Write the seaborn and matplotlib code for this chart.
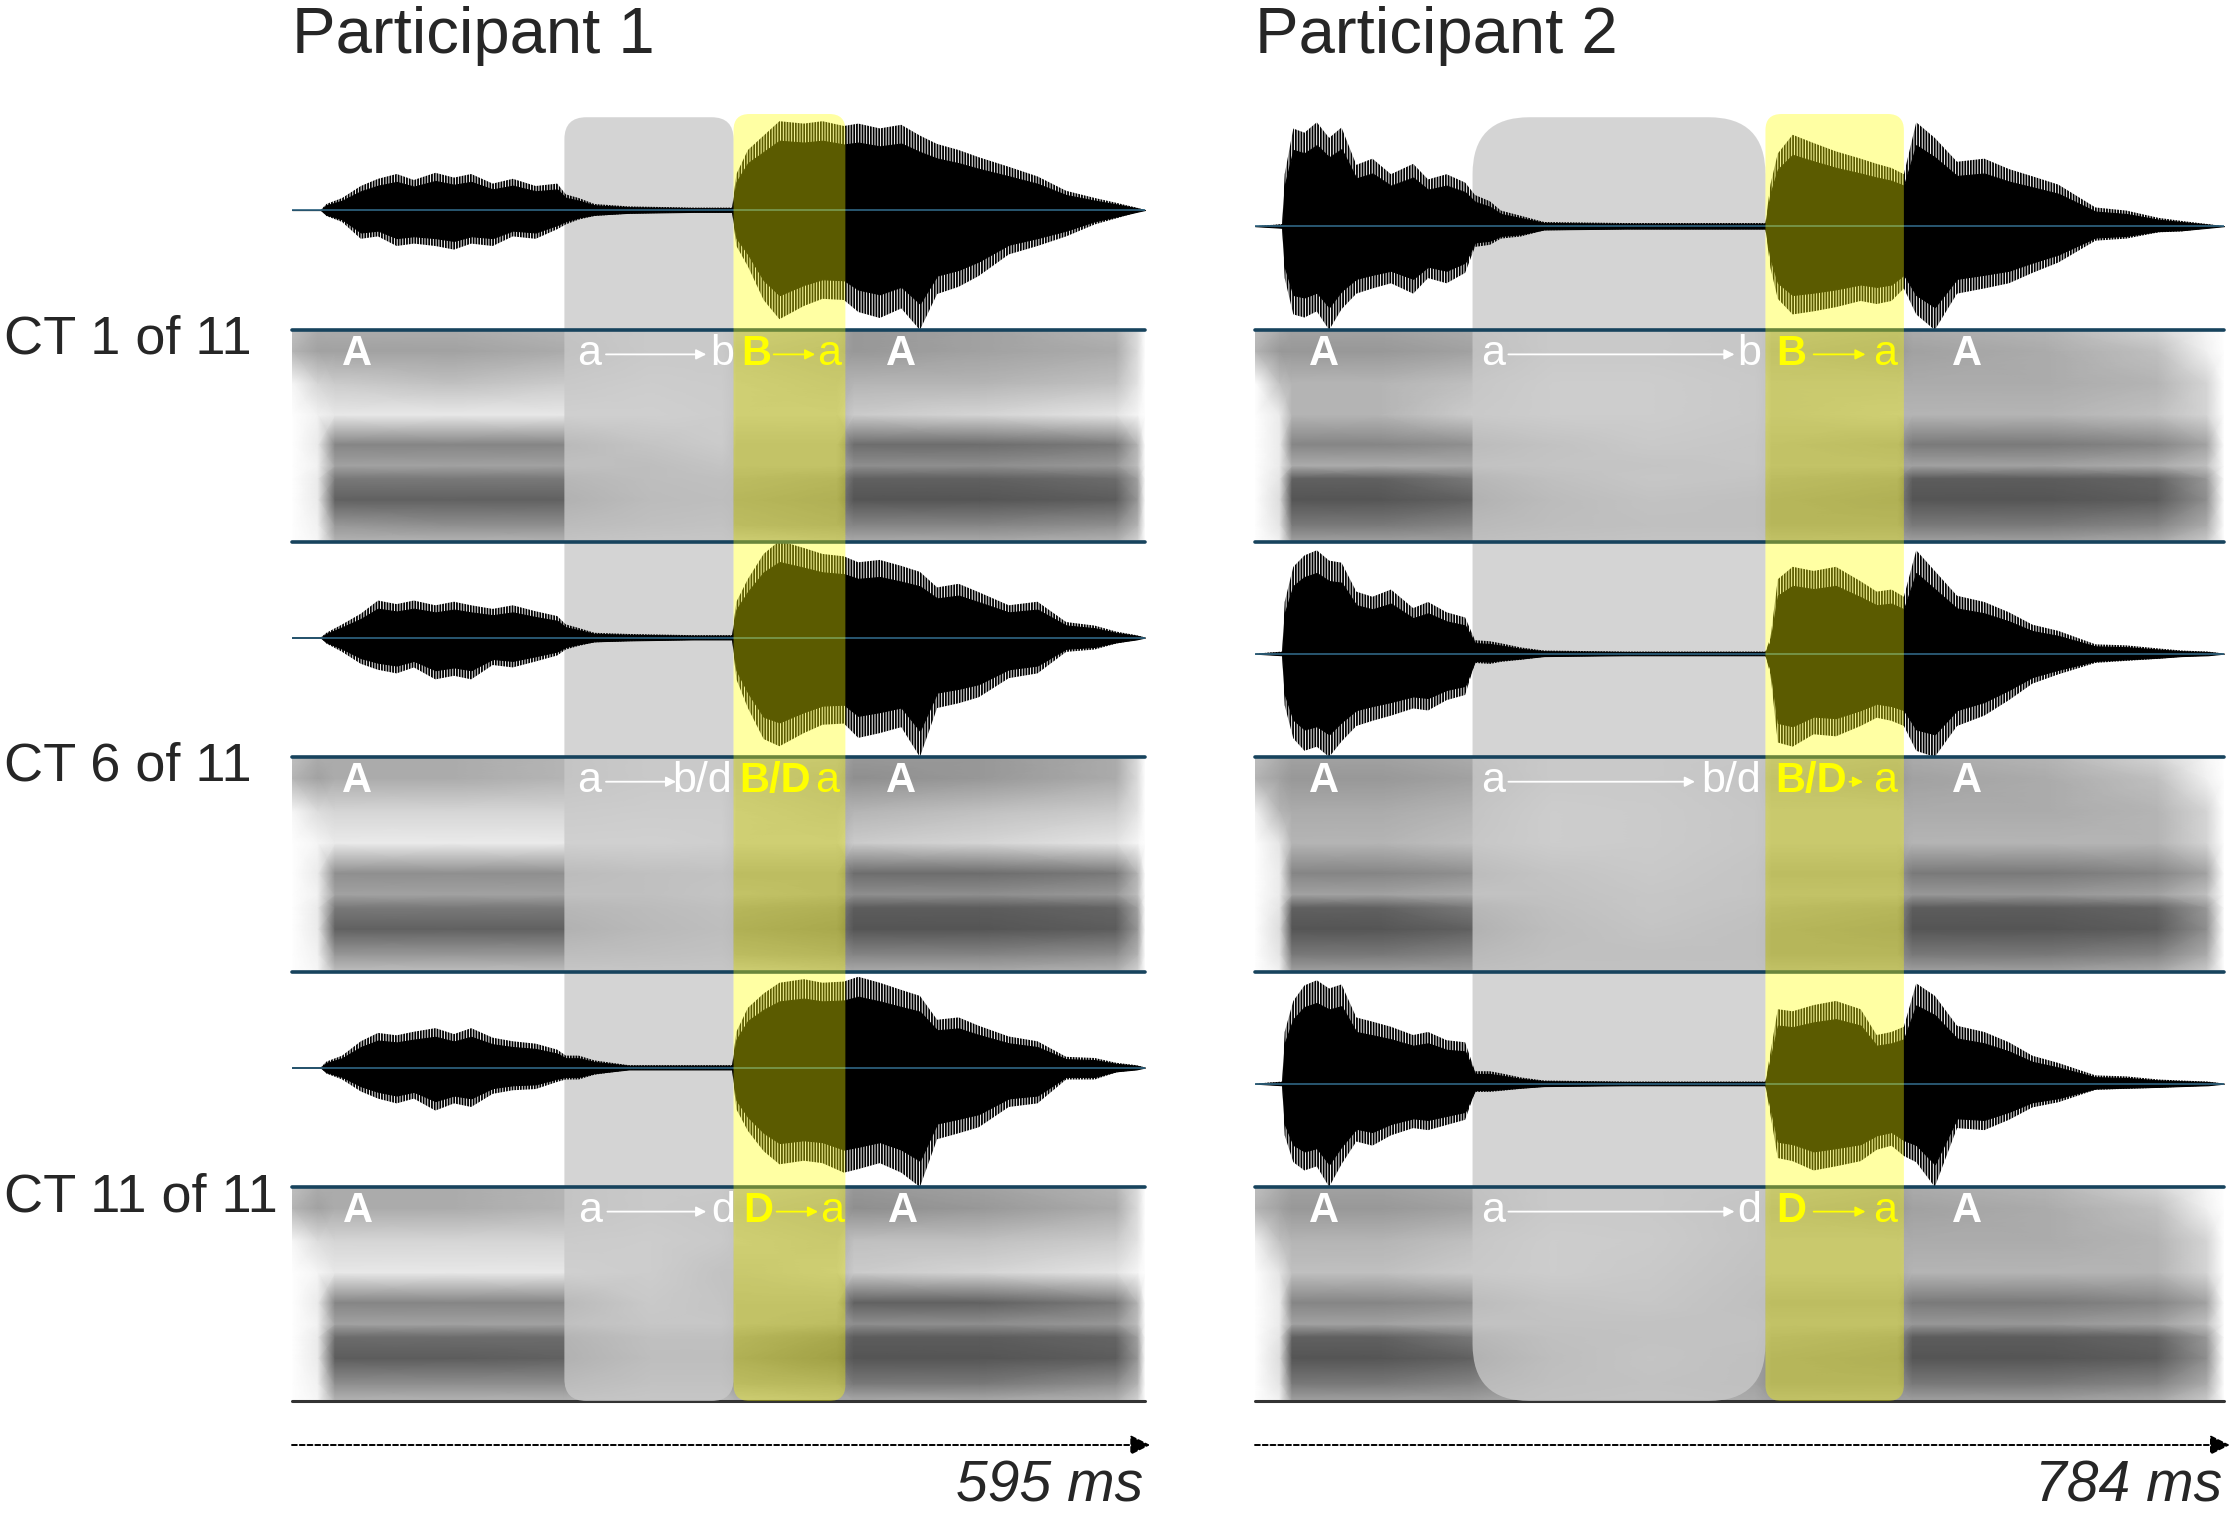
import numpy as np
import matplotlib
matplotlib.use("Agg")
import matplotlib.pyplot as plt
import matplotlib.transforms as mtransforms
from matplotlib.patches import FancyBboxPatch, Rectangle
import seaborn as sns

# ---------------- data ----------------
PARTICIPANTS = ["Participant 1", "Participant 2"]
ROW_LABELS = ["CT 1 of 11", "CT 6 of 11", "CT 11 of 11"]
DURATION_MS = [595, 784]

# highlighted segments (ms): grey = transition, yellow = burst/vowel onset
GREY_SEG = [(190, 308), (176, 413)]
YELLOW_SEG = [(308, 386), (413, 525)]

# waveform envelopes (fraction of baseline-to-separator distance)
WAVE_T_P1 = [0, 20, 24, 35, 48, 60, 73, 85, 100, 113, 125, 140, 154, 170, 185, 191, 200, 211, 235, 280,
             307, 310, 318, 329, 340, 357, 370, 385, 395, 410, 425, 438, 450, 465, 479, 500, 520, 540, 560, 575,
             589, 595]
WAVE_P1_CT1_UP = [0, 0, 0.05, 0.1, 0.2, 0.26, 0.3, 0.25, 0.31, 0.27, 0.3, 0.22, 0.26, 0.2, 0.22, 0.13, 0.1, 0.05,
                  0.03, 0.02, 0.02, 0.3, 0.5, 0.62, 0.74, 0.72, 0.74, 0.7, 0.72, 0.68, 0.71, 0.62, 0.55, 0.5, 0.44,
                  0.36, 0.28, 0.16, 0.1, 0.06, 0.02, 0]
WAVE_P1_CT1_DN = [0, 0, 0.05, 0.1, 0.24, 0.22, 0.3, 0.28, 0.3, 0.33, 0.28, 0.3, 0.22, 0.24, 0.16, 0.12, 0.08, 0.05,
                  0.03, 0.02, 0.02, 0.3, 0.47, 0.75, 0.91, 0.8, 0.74, 0.75, 0.85, 0.9, 0.82, 1.0, 0.7, 0.64, 0.55,
                  0.37, 0.3, 0.22, 0.12, 0.07, 0.02, 0]
WAVE_P1_CT6_UP = [0, 0, 0.04, 0.11, 0.2, 0.31, 0.28, 0.31, 0.27, 0.3, 0.27, 0.24, 0.27, 0.22, 0.18, 0.11, 0.08, 0.04,
                  0.03, 0.02, 0.02, 0.3, 0.49, 0.7, 0.81, 0.75, 0.7, 0.68, 0.63, 0.65, 0.6, 0.55, 0.42, 0.45, 0.38,
                  0.27, 0.3, 0.13, 0.1, 0.05, 0.02, 0]
WAVE_P1_CT6_DN = [0, 0, 0.05, 0.12, 0.22, 0.27, 0.3, 0.25, 0.35, 0.32, 0.35, 0.23, 0.25, 0.2, 0.15, 0.1, 0.07, 0.04,
                  0.03, 0.02, 0.02, 0.35, 0.59, 0.85, 0.91, 0.8, 0.73, 0.72, 0.84, 0.8, 0.75, 1.0, 0.59, 0.55, 0.5,
                  0.34, 0.3, 0.12, 0.1, 0.05, 0.02, 0]
WAVE_P1_CT11_UP = [0, 0, 0.05, 0.1, 0.22, 0.29, 0.27, 0.3, 0.33, 0.28, 0.33, 0.25, 0.22, 0.2, 0.15, 0.1, 0.1, 0.06,
                   0.02, 0.02, 0.02, 0.3, 0.5, 0.62, 0.71, 0.74, 0.71, 0.72, 0.76, 0.71, 0.65, 0.6, 0.4, 0.42, 0.35,
                   0.26, 0.22, 0.09, 0.08, 0.04, 0.02, 0]
WAVE_P1_CT11_DN = [0, 0, 0.05, 0.1, 0.2, 0.26, 0.3, 0.26, 0.36, 0.3, 0.33, 0.22, 0.19, 0.18, 0.12, 0.1, 0.1, 0.06,
                   0.02, 0.02, 0.02, 0.35, 0.53, 0.7, 0.81, 0.78, 0.8, 0.88, 0.85, 0.8, 0.88, 1.0, 0.6, 0.55, 0.5,
                   0.33, 0.3, 0.1, 0.1, 0.04, 0.02, 0]

WAVE_T_P2 = [0, 22, 24, 31, 40, 50, 60, 70, 82, 95, 110, 128, 140, 155, 170, 178, 190, 199, 215, 234,
             300, 380, 413, 417, 423, 435, 452, 470, 490, 503, 515, 525, 535, 550, 568, 590, 610, 629, 650, 680,
             705, 731, 750, 771, 784]
WAVE_P2_CT1_UP = [0, 0.02, 0.5, 0.94, 0.9, 1.0, 0.85, 0.95, 0.59, 0.65, 0.5, 0.6, 0.45, 0.5, 0.42, 0.3, 0.24, 0.15,
                  0.1, 0.04, 0.03, 0.03, 0.03, 0.4, 0.7, 0.88, 0.8, 0.72, 0.65, 0.6, 0.56, 0.5, 1.0, 0.85, 0.62, 0.65,
                  0.55, 0.48, 0.4, 0.18, 0.15, 0.08, 0.05, 0.02, 0]
WAVE_P2_CT1_DN = [0, 0.02, 0.5, 0.85, 0.88, 0.82, 1.0, 0.8, 0.65, 0.6, 0.55, 0.65, 0.5, 0.55, 0.45, 0.2, 0.18, 0.12,
                  0.1, 0.04, 0.03, 0.03, 0.03, 0.4, 0.7, 0.85, 0.82, 0.78, 0.72, 0.75, 0.72, 0.6, 0.85, 1.0, 0.65, 0.6,
                  0.55, 0.45, 0.35, 0.14, 0.12, 0.06, 0.05, 0.02, 0]
WAVE_P2_CT6_UP = [0, 0.02, 0.5, 0.84, 0.95, 1.0, 0.9, 0.88, 0.6, 0.55, 0.62, 0.44, 0.5, 0.4, 0.35, 0.13, 0.12, 0.1,
                  0.06, 0.03, 0.02, 0.02, 0.02, 0.15, 0.72, 0.84, 0.8, 0.84, 0.7, 0.6, 0.62, 0.55, 1.0, 0.8, 0.56, 0.5,
                  0.4, 0.28, 0.22, 0.09, 0.08, 0.05, 0.03, 0.02, 0]
WAVE_P2_CT6_DN = [0, 0.02, 0.5, 0.82, 0.94, 0.9, 1.0, 0.85, 0.7, 0.65, 0.6, 0.53, 0.55, 0.45, 0.4, 0.09, 0.1, 0.08,
                  0.06, 0.03, 0.02, 0.02, 0.02, 0.2, 0.86, 0.9, 0.78, 0.8, 0.7, 0.62, 0.65, 0.7, 0.94, 1.0, 0.7, 0.6,
                  0.45, 0.29, 0.2, 0.09, 0.07, 0.05, 0.03, 0.02, 0]
WAVE_P2_CT11_UP = [0, 0.02, 0.5, 0.8, 0.95, 1.0, 0.92, 0.96, 0.64, 0.6, 0.55, 0.47, 0.5, 0.42, 0.4, 0.12, 0.12, 0.1,
                   0.06, 0.03, 0.02, 0.02, 0.02, 0.3, 0.72, 0.7, 0.76, 0.8, 0.72, 0.47, 0.5, 0.55, 0.97, 0.85, 0.56,
                   0.5, 0.4, 0.27, 0.2, 0.08, 0.07, 0.04, 0.03, 0.02, 0]
WAVE_P2_CT11_DN = [0, 0.02, 0.5, 0.76, 0.84, 0.8, 1.0, 0.78, 0.56, 0.6, 0.5, 0.43, 0.45, 0.4, 0.35, 0.08, 0.08, 0.07,
                   0.05, 0.03, 0.02, 0.02, 0.02, 0.3, 0.72, 0.75, 0.84, 0.8, 0.75, 0.64, 0.6, 0.7, 0.76, 1.0, 0.43,
                   0.45, 0.35, 0.23, 0.18, 0.06, 0.05, 0.04, 0.03, 0.02, 0]

# spectrogram darkness (0 white .. 1 black); rows listed from top frequency to bottom
SPEC_F_TOP = [1.0, 0.9, 0.75, 0.6, 0.46, 0.36, 0.3, 0.2, 0.08, 0.0]
SPEC_T_P1 = [0, 18, 30, 110, 190, 250, 300, 310, 380, 392, 480, 575, 590, 595]
SPEC_T_P2 = [0, 20, 30, 100, 175, 240, 320, 405, 418, 520, 532, 640, 730, 770, 784]

SPEC_P1_CT1 = [
    [0.45, 0.55, 0.55, 0.55, 0.5, 0.4, 0.4, 0.5, 0.55, 0.65, 0.6, 0.5, 0.3, 0.0],
    [0.5, 0.6, 0.6, 0.6, 0.55, 0.4, 0.4, 0.55, 0.6, 0.65, 0.6, 0.55, 0.3, 0.0],
    [0.1, 0.35, 0.4, 0.45, 0.4, 0.3, 0.35, 0.5, 0.55, 0.5, 0.5, 0.45, 0.25, 0.0],
    [0.0, 0.15, 0.22, 0.22, 0.22, 0.22, 0.3, 0.5, 0.5, 0.4, 0.35, 0.25, 0.1, 0.0],
    [0.0, 0.2, 0.75, 0.75, 0.75, 0.5, 0.35, 0.6, 0.6, 0.85, 0.85, 0.8, 0.5, 0.0],
    [0.0, 0.15, 0.6, 0.6, 0.6, 0.65, 0.5, 0.6, 0.6, 0.7, 0.7, 0.65, 0.45, 0.0],
    [0.0, 0.2, 0.8, 0.8, 0.8, 0.65, 0.6, 0.65, 0.7, 0.9, 0.9, 0.85, 0.6, 0.0],
    [0.0, 0.2, 0.9, 0.9, 0.9, 0.7, 0.65, 0.7, 0.75, 0.96, 0.96, 0.92, 0.65, 0.0],
    [0.0, 0.15, 0.65, 0.7, 0.7, 0.6, 0.55, 0.65, 0.7, 0.75, 0.75, 0.7, 0.5, 0.0],
    [0.0, 0.1, 0.5, 0.5, 0.5, 0.45, 0.45, 0.5, 0.55, 0.55, 0.55, 0.5, 0.35, 0.0],
]
SPEC_P1_CT6 = [
    [0.45, 0.55, 0.55, 0.55, 0.5, 0.4, 0.4, 0.55, 0.55, 0.65, 0.65, 0.55, 0.3, 0.0],
    [0.5, 0.6, 0.55, 0.55, 0.5, 0.4, 0.4, 0.55, 0.6, 0.7, 0.65, 0.55, 0.3, 0.0],
    [0.1, 0.3, 0.35, 0.35, 0.35, 0.3, 0.3, 0.5, 0.55, 0.5, 0.45, 0.4, 0.25, 0.0],
    [0.0, 0.12, 0.2, 0.2, 0.2, 0.18, 0.25, 0.5, 0.5, 0.4, 0.35, 0.25, 0.1, 0.0],
    [0.0, 0.2, 0.7, 0.7, 0.7, 0.6, 0.55, 0.65, 0.65, 0.85, 0.85, 0.8, 0.5, 0.0],
    [0.0, 0.15, 0.6, 0.6, 0.6, 0.6, 0.5, 0.6, 0.65, 0.7, 0.7, 0.65, 0.45, 0.0],
    [0.0, 0.2, 0.8, 0.8, 0.8, 0.7, 0.6, 0.7, 0.75, 0.92, 0.92, 0.88, 0.6, 0.0],
    [0.0, 0.2, 0.9, 0.9, 0.9, 0.75, 0.65, 0.75, 0.8, 0.96, 0.96, 0.92, 0.65, 0.0],
    [0.0, 0.15, 0.65, 0.65, 0.65, 0.6, 0.55, 0.65, 0.7, 0.75, 0.75, 0.7, 0.5, 0.0],
    [0.0, 0.1, 0.45, 0.45, 0.45, 0.45, 0.45, 0.5, 0.55, 0.55, 0.55, 0.5, 0.35, 0.0],
]
SPEC_P1_CT11 = [
    [0.45, 0.55, 0.55, 0.55, 0.5, 0.4, 0.4, 0.5, 0.55, 0.65, 0.6, 0.5, 0.3, 0.0],
    [0.5, 0.6, 0.55, 0.55, 0.5, 0.4, 0.45, 0.55, 0.6, 0.7, 0.65, 0.55, 0.3, 0.0],
    [0.1, 0.3, 0.35, 0.35, 0.35, 0.3, 0.4, 0.5, 0.55, 0.45, 0.45, 0.4, 0.25, 0.0],
    [0.0, 0.12, 0.22, 0.22, 0.22, 0.3, 0.55, 0.55, 0.5, 0.4, 0.35, 0.25, 0.1, 0.0],
    [0.0, 0.2, 0.75, 0.75, 0.75, 0.4, 0.5, 0.6, 0.6, 0.9, 0.9, 0.8, 0.5, 0.0],
    [0.0, 0.15, 0.6, 0.6, 0.6, 0.45, 0.45, 0.6, 0.65, 0.7, 0.7, 0.65, 0.45, 0.0],
    [0.0, 0.2, 0.85, 0.85, 0.85, 0.6, 0.6, 0.7, 0.8, 0.92, 0.92, 0.88, 0.6, 0.0],
    [0.0, 0.2, 0.92, 0.92, 0.9, 0.65, 0.65, 0.75, 0.85, 0.96, 0.96, 0.92, 0.65, 0.0],
    [0.0, 0.15, 0.7, 0.7, 0.7, 0.55, 0.55, 0.65, 0.7, 0.8, 0.8, 0.7, 0.5, 0.0],
    [0.0, 0.1, 0.5, 0.5, 0.5, 0.45, 0.45, 0.5, 0.55, 0.55, 0.55, 0.5, 0.35, 0.0],
]
SPEC_P2_CT1 = [
    [0.45, 0.55, 0.6, 0.6, 0.55, 0.4, 0.4, 0.45, 0.55, 0.6, 0.55, 0.5, 0.35, 0.1, 0.0],
    [0.5, 0.65, 0.65, 0.65, 0.6, 0.4, 0.4, 0.45, 0.6, 0.65, 0.6, 0.55, 0.45, 0.15, 0.0],
    [0.0, 0.45, 0.5, 0.5, 0.45, 0.3, 0.3, 0.4, 0.55, 0.55, 0.55, 0.55, 0.5, 0.35, 0.0],
    [0.0, 0.2, 0.5, 0.5, 0.4, 0.3, 0.3, 0.4, 0.55, 0.5, 0.5, 0.5, 0.45, 0.35, 0.0],
    [0.0, 0.2, 0.75, 0.75, 0.7, 0.55, 0.4, 0.45, 0.6, 0.65, 0.8, 0.8, 0.75, 0.6, 0.0],
    [0.0, 0.2, 0.55, 0.55, 0.55, 0.5, 0.5, 0.45, 0.6, 0.6, 0.6, 0.6, 0.55, 0.45, 0.0],
    [0.0, 0.25, 0.9, 0.9, 0.8, 0.6, 0.45, 0.5, 0.65, 0.7, 0.92, 0.92, 0.88, 0.65, 0.0],
    [0.0, 0.3, 0.96, 0.96, 0.9, 0.7, 0.55, 0.6, 0.7, 0.75, 0.96, 0.96, 0.92, 0.7, 0.0],
    [0.0, 0.25, 0.8, 0.8, 0.75, 0.65, 0.6, 0.6, 0.7, 0.7, 0.8, 0.8, 0.75, 0.55, 0.0],
    [0.0, 0.15, 0.6, 0.6, 0.6, 0.55, 0.5, 0.5, 0.6, 0.6, 0.6, 0.6, 0.55, 0.4, 0.0],
]
SPEC_P2_CT6 = [
    [0.45, 0.55, 0.6, 0.6, 0.55, 0.4, 0.4, 0.45, 0.55, 0.6, 0.55, 0.5, 0.35, 0.1, 0.0],
    [0.5, 0.6, 0.65, 0.65, 0.6, 0.4, 0.4, 0.5, 0.6, 0.65, 0.6, 0.55, 0.45, 0.15, 0.0],
    [0.15, 0.5, 0.55, 0.55, 0.5, 0.3, 0.35, 0.45, 0.55, 0.55, 0.55, 0.55, 0.5, 0.35, 0.0],
    [0.0, 0.25, 0.5, 0.5, 0.45, 0.3, 0.35, 0.45, 0.55, 0.55, 0.5, 0.5, 0.5, 0.35, 0.0],
    [0.0, 0.2, 0.75, 0.75, 0.7, 0.5, 0.4, 0.5, 0.65, 0.65, 0.8, 0.8, 0.75, 0.6, 0.0],
    [0.0, 0.2, 0.6, 0.6, 0.55, 0.55, 0.45, 0.5, 0.6, 0.6, 0.65, 0.65, 0.6, 0.45, 0.0],
    [0.0, 0.25, 0.9, 0.9, 0.8, 0.6, 0.45, 0.55, 0.65, 0.7, 0.92, 0.92, 0.88, 0.65, 0.0],
    [0.0, 0.3, 0.96, 0.96, 0.9, 0.65, 0.5, 0.6, 0.7, 0.75, 0.96, 0.96, 0.92, 0.7, 0.0],
    [0.0, 0.25, 0.8, 0.8, 0.75, 0.6, 0.6, 0.6, 0.7, 0.7, 0.8, 0.8, 0.75, 0.55, 0.0],
    [0.0, 0.15, 0.6, 0.6, 0.6, 0.55, 0.55, 0.55, 0.6, 0.6, 0.6, 0.6, 0.55, 0.4, 0.0],
]
SPEC_P2_CT11 = [
    [0.45, 0.55, 0.6, 0.6, 0.55, 0.4, 0.4, 0.45, 0.55, 0.6, 0.55, 0.5, 0.35, 0.1, 0.0],
    [0.5, 0.6, 0.65, 0.65, 0.6, 0.4, 0.4, 0.5, 0.6, 0.65, 0.6, 0.55, 0.45, 0.15, 0.0],
    [0.15, 0.45, 0.5, 0.5, 0.45, 0.3, 0.35, 0.5, 0.55, 0.55, 0.55, 0.55, 0.5, 0.35, 0.0],
    [0.0, 0.25, 0.45, 0.45, 0.4, 0.3, 0.4, 0.55, 0.55, 0.55, 0.5, 0.5, 0.5, 0.35, 0.0],
    [0.0, 0.2, 0.75, 0.75, 0.7, 0.5, 0.45, 0.6, 0.65, 0.65, 0.8, 0.8, 0.75, 0.6, 0.0],
    [0.0, 0.2, 0.6, 0.6, 0.55, 0.55, 0.55, 0.55, 0.6, 0.6, 0.65, 0.65, 0.6, 0.45, 0.0],
    [0.0, 0.25, 0.9, 0.9, 0.8, 0.6, 0.55, 0.55, 0.65, 0.7, 0.92, 0.92, 0.88, 0.65, 0.0],
    [0.0, 0.3, 0.96, 0.96, 0.9, 0.65, 0.5, 0.6, 0.7, 0.75, 0.96, 0.96, 0.92, 0.7, 0.0],
    [0.0, 0.25, 0.8, 0.8, 0.75, 0.6, 0.55, 0.6, 0.7, 0.7, 0.8, 0.8, 0.75, 0.55, 0.0],
    [0.0, 0.15, 0.6, 0.6, 0.6, 0.55, 0.5, 0.55, 0.6, 0.6, 0.6, 0.6, 0.55, 0.4, 0.0],
]

# segment labels on each spectrogram: (text, ms, colour key, bold) ; arrows: (from ms, to ms, colour key)
LABELS_P1 = [
    [("A", 45, "w", True), ("a", 207, "w", False), ("b", 300, "w", False),
     ("B", 324, "y", True), ("a", 375, "y", False), ("A", 425, "w", True)],
    [("A", 45, "w", True), ("a", 207, "w", False), ("b/d", 286, "w", False),
     ("B/D", 337, "y", True), ("a", 373, "y", False), ("A", 425, "w", True)],
    [("A", 46, "w", True), ("a", 208, "w", False), ("d", 301, "w", False),
     ("D", 325, "y", True), ("a", 377, "y", False), ("A", 426, "w", True)],
]
ARROWS_P1 = [[(219, 289, "w"), (336, 365, "y")], [(219, 268, "w")], [(220, 289, "w"), (338, 367, "y")]]
LABELS_P2 = [
    [("A", 56, "w", True), ("a", 193, "w", False), ("b", 400, "w", False),
     ("B", 434, "y", True), ("a", 510, "y", False), ("A", 576, "w", True)],
    [("A", 56, "w", True), ("a", 193, "w", False), ("b/d", 385, "w", False),
     ("B/D", 450, "y", True), ("a", 510, "y", False), ("A", 576, "w", True)],
    [("A", 56, "w", True), ("a", 193, "w", False), ("d", 400, "w", False),
     ("D", 434, "y", True), ("a", 510, "y", False), ("A", 576, "w", True)],
]
ARROWS_P2 = [[(205, 388, "w"), (452, 494, "y")], [(205, 356, "w"), (481, 492, "y")],
             [(205, 388, "w"), (452, 494, "y")]]

WAVES = [[(WAVE_P1_CT1_UP, WAVE_P1_CT1_DN), (WAVE_P1_CT6_UP, WAVE_P1_CT6_DN), (WAVE_P1_CT11_UP, WAVE_P1_CT11_DN)],
         [(WAVE_P2_CT1_UP, WAVE_P2_CT1_DN), (WAVE_P2_CT6_UP, WAVE_P2_CT6_DN), (WAVE_P2_CT11_UP, WAVE_P2_CT11_DN)]]
WAVE_T = [WAVE_T_P1, WAVE_T_P2]
SPECS = [[SPEC_P1_CT1, SPEC_P1_CT6, SPEC_P1_CT11], [SPEC_P2_CT1, SPEC_P2_CT6, SPEC_P2_CT11]]
SPEC_T = [SPEC_T_P1, SPEC_T_P2]
LABELS = [LABELS_P1, LABELS_P2]
ARROWS = [ARROWS_P1, ARROWS_P2]

# ---------------- layout (pixels) ----------------
W, H = 2231, 1518
PANEL_X = [(292, 1145), (1255, 2224)]
WAVE_ROWS = [(114, 330), (542, 757), (972, 1187)]
SPEC_ROWS = [(330, 542), (757, 972), (1187, 1401)]
WAVE_TOP = [0.8, 1.08]              # ylim top so the baseline sits where it does in the figure
ROUND_PX = [(22, 16), (57, 16)]     # corner radius grey / yellow
LINE_C = "#17435d"
BASE_C = "#2f6683"
COL = {"w": "white", "y": "#ffff00"}

sns.set_theme(style="white")
plt.rcParams["font.family"] = ["Liberation Sans", "DejaVu Sans"]
plt.rcParams["hatch.linewidth"] = 1.3

fig = plt.figure(figsize=(W / 100, H / 100), dpi=100)
fig.patch.set_facecolor("white")


def px_axes(x0, y0, x1, y1, z):
    ax = fig.add_axes([x0 / W, 1 - y1 / H, (x1 - x0) / W, (y1 - y0) / H], zorder=z)
    ax.set_facecolor("none")
    ax.axis("off")
    return ax


def seg_box(ax, seg, radius_px, dur, pw, color, alpha, top):
    asp = (pw / dur) / (SPEC_ROWS[-1][1] - WAVE_ROWS[0][0])
    r = radius_px * dur / pw
    ax.add_patch(FancyBboxPatch((seg[0], 0), seg[1] - seg[0], top,
                                boxstyle=f"round,pad=0,rounding_size={r}",
                                mutation_aspect=asp, fc=color, ec="none", alpha=alpha))


for p in range(2):
    x0, x1 = PANEL_X[p]
    pw = x1 - x0
    dur = DURATION_MS[p]
    t_w = np.array(WAVE_T[p])
    f_grid = np.array(SPEC_F_TOP[::-1])

    grey_ax = px_axes(x0, WAVE_ROWS[0][0], x1, SPEC_ROWS[-1][1], 2)
    yel_ax = px_axes(x0, WAVE_ROWS[0][0], x1, SPEC_ROWS[-1][1], 4)
    for ax in (grey_ax, yel_ax):
        ax.set_xlim(0, dur)
        ax.set_ylim(0, 1)
    seg_box(grey_ax, GREY_SEG[p], ROUND_PX[p][0], dur, pw, "#c9c9c9", 0.78, 0.9975)
    seg_box(yel_ax, YELLOW_SEG[p], ROUND_PX[p][1], dur, pw, "#ffff00", 0.36, 1.0)

    for r in range(3):
        # waveform: spiky fringe (hatched) around a solid core
        wax = px_axes(x0, WAVE_ROWS[r][0], x1, WAVE_ROWS[r][1], 3)
        wax.set_xlim(0, dur)
        wax.set_ylim(-1, WAVE_TOP[p])
        up, dn = np.array(WAVES[p][r][0]), np.array(WAVES[p][r][1])
        wax.axhline(0, color=BASE_C, lw=1.2)
        wax.fill_between(t_w, -dn, up, facecolor="none", edgecolor="black", hatch="|" * 6, lw=0)
        wax.fill_between(t_w, -dn * 0.78, up * 0.78, color="black", lw=0.8)
        wax.axhline(-1, color=LINE_C, lw=2.6, clip_on=False)
        if r > 0:
            wax.axhline(WAVE_TOP[p], color=LINE_C, lw=2.6, clip_on=False)

        # spectrogram with vertical glottal striation texture
        sax = px_axes(x0, SPEC_ROWS[r][0], x1, SPEC_ROWS[r][1], 1)
        sax.pcolormesh(np.array(SPEC_T[p]), f_grid, np.array(SPECS[p][r])[::-1],
                       shading="gouraud", cmap="Greys", vmin=0, vmax=1)
        sax.add_patch(Rectangle((0, 0), 1, 1, transform=sax.transAxes, facecolor="none",
                                edgecolor=(1, 1, 1, 0.3), hatch="|" * 12, lw=0))
        sax.set_xlim(0, dur)
        sax.set_ylim(0, 1)
        if r == 2:
            sax.axhline(0, color="#333333", lw=2.2, clip_on=False)

        # segment labels above everything
        tr = mtransforms.blended_transform_factory(yel_ax.transData, sax.transAxes)
        for txt, ms, ck, bold in LABELS[p][r]:
            yel_ax.text(ms, 0.835, txt, transform=tr, ha="center", va="baseline",
                        color=COL[ck], fontsize=30 if bold else 31,
                        fontweight="bold" if bold else "normal", clip_on=False)
        for a0, a1, ck in ARROWS[p][r]:
            yel_ax.annotate("", xy=(a1, 0.885), xytext=(a0, 0.885), xycoords=tr, textcoords=tr,
                            annotation_clip=False,
                            arrowprops=dict(arrowstyle="-|>", color=COL[ck], lw=1.3,
                                            mutation_scale=15, shrinkA=0, shrinkB=0))

    # time arrow and duration
    tax = px_axes(x0, 1430, x1, 1460, 1)
    tax.set_xlim(0, dur)
    tax.set_ylim(0, 1)
    tax.annotate("", xy=(dur * 1.006, 0.5), xytext=(0, 0.5), annotation_clip=False,
                 arrowprops=dict(arrowstyle="-|>", color="black", lw=1.4, linestyle=(0, (2.5, 1.5)),
                                 mutation_scale=30, shrinkA=0, shrinkB=0))
    fig.text((x1 - 2) / W, 1 - 1502 / H, f"{dur} ms", ha="right", va="baseline",
             fontsize=41, fontstyle="italic")

    fig.text(x0 / W, 1 - 53 / H, PARTICIPANTS[p], ha="left", va="baseline", fontsize=47)

for r, lab in enumerate(ROW_LABELS):
    fig.text(4 / W, 1 - (SPEC_ROWS[r][0] + 24) / H, lab, ha="left", va="baseline", fontsize=39)

fig.savefig("out.png", dpi=100, facecolor="white")
